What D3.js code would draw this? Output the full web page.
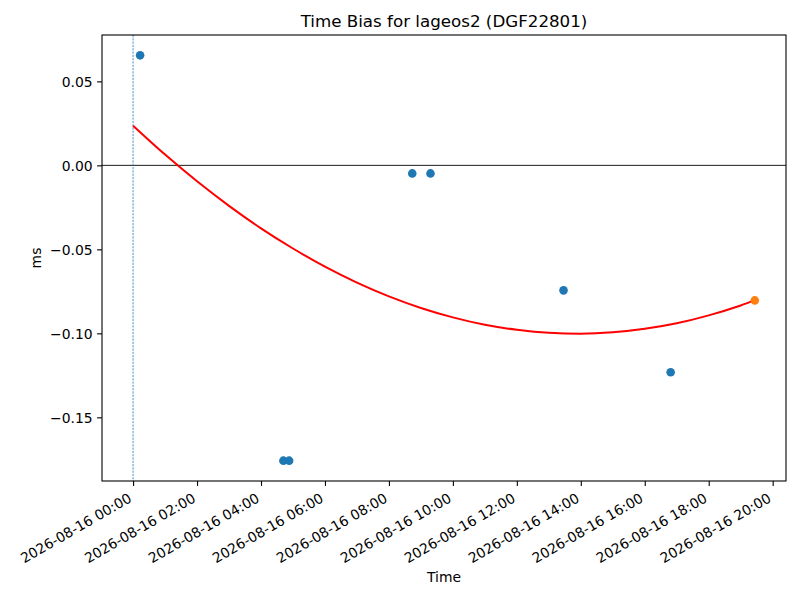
<!DOCTYPE html>
<html lang="en">
<head>
<meta charset="UTF-8">
<title>Time Bias for lageos2</title>
<script src="https://cdn.jsdelivr.net/npm/d3@7"></script>
<style>
  body { margin: 0; background: #fff; }
  text { font-family: "DejaVu Sans", sans-serif; fill: #000; }
</style>
</head>
<body>
<script>
// passes (hours after 2026-08-16 00:00) and measured bias in ms
var passHours = [0.22, 4.70, 4.88, 8.73, 9.30, 13.46, 16.81];
var passBias = [0.0655, -0.1758, -0.1758, -0.0048, -0.0048, -0.0744, -0.1232];

// latest pass (orange)
var lastHours = [19.44];
var lastBias = [-0.0804];

// fitted curve at each hour
var fitHours = [0, 1, 2, 3, 4, 5, 6, 7, 8, 9, 10, 11, 12, 13, 14, 15, 16, 17, 18, 19, 19.44];
var fitBias = [0.0236, 0.0064, -0.0095, -0.0241, -0.0375, -0.0495, -0.0603, -0.0698, -0.0780, -0.0849,
               -0.0905, -0.0949, -0.0979, -0.0997, -0.1002, -0.0994, -0.0973, -0.0940, -0.0893, -0.0834, -0.0804];

var yTicks = [0.05, 0.00, -0.05, -0.10, -0.15];
var xTickHours = [0, 2, 4, 6, 8, 10, 12, 14, 16, 18, 20];

var w = 800, h = 600;
var padL = 102, padR = 786, padT = 35, padB = 481;
var t0 = new Date(2026, 7, 16, 0, 0);
var toDate = hr => new Date(t0.getTime() + hr * 3600e3);

var svg = d3.select('body').append('svg')
  .attr('width', w)
  .attr('height', h);

var x = d3.scaleTime()
  .domain([toDate(-0.972), toDate(20.417)])
  .range([padL, padR]);

var y = d3.scaleLinear()
  .domain([-0.1879, 0.0776])
  .range([padB, padT]);

var fmtTime = d3.timeFormat('%Y-%m-%d %H:%M');
var fmtY = d => d3.format('.2f')(d).replace('-', '\u2212');

// zero line and start marker
svg.append('line')
  .attr('x1', padL).attr('x2', padR)
  .attr('y1', y(0)).attr('y2', y(0))
  .attr('stroke', '#000').attr('stroke-width', 0.9);

svg.append('line')
  .attr('x1', x(toDate(0))).attr('x2', x(toDate(0)))
  .attr('y1', padT).attr('y2', padB)
  .attr('stroke', '#1f77b4').attr('stroke-width', 0.8)
  .attr('stroke-dasharray', '2.2,1.1');

// fitted curve
var fitData = fitHours.map((t, i) => [toDate(t), fitBias[i]]);
svg.append('path')
  .datum(fitData)
  .attr('fill', 'none')
  .attr('stroke', 'red')
  .attr('stroke-width', 2)
  .attr('d', d3.line().x(d => x(d[0])).y(d => y(d[1])).curve(d3.curveMonotoneX));

// scatter points
svg.selectAll('circle.pass')
  .data(passHours.map((t, i) => [toDate(t), passBias[i]]))
  .enter()
  .append('circle')
  .attr('class', 'pass')
  .attr('cx', d => x(d[0]))
  .attr('cy', d => y(d[1]))
  .attr('r', 4.3)
  .attr('fill', '#1f77b4');

svg.selectAll('circle.last')
  .data(lastHours.map((t, i) => [toDate(t), lastBias[i]]))
  .enter()
  .append('circle')
  .attr('class', 'last')
  .attr('cx', d => x(d[0]))
  .attr('cy', d => y(d[1]))
  .attr('r', 4.3)
  .attr('fill', '#ff7f0e');

// frame
svg.append('rect')
  .attr('x', padL).attr('y', padT)
  .attr('width', padR - padL).attr('height', padB - padT)
  .attr('fill', 'none').attr('stroke', '#000').attr('stroke-width', 1.1);

// y axis
var yAxis = svg.append('g')
  .attr('transform', `translate(${padL},0)`)
  .call(d3.axisLeft(y).tickValues(yTicks).tickSize(4.9).tickPadding(4.5).tickFormat(fmtY));
yAxis.select('.domain').remove();
yAxis.selectAll('line').attr('stroke-width', 1.1);
yAxis.selectAll('text')
  .attr('font-size', '13.9px')
  .attr('font-family', '"DejaVu Sans", sans-serif')
  .attr('dy', '0.36em');

// x axis
var xAxis = svg.append('g')
  .attr('transform', `translate(0,${padB})`)
  .call(d3.axisBottom(x).tickValues(xTickHours.map(toDate)).tickSize(4.9).tickFormat(fmtTime));
xAxis.select('.domain').remove();
xAxis.selectAll('line').attr('stroke-width', 1.1);
xAxis.selectAll('text')
  .attr('font-size', '13.9px')
  .attr('font-family', '"DejaVu Sans", sans-serif')
  .attr('text-anchor', 'end')
  .attr('dy', null)
  .attr('y', 0)
  .attr('transform', 'translate(-1,20) rotate(-30)');

// titles
svg.append('text')
  .attr('x', (padL + padR) / 2).attr('y', 27)
  .attr('text-anchor', 'middle')
  .attr('font-size', '16.7px')
  .text('Time Bias for lageos2 (DGF22801)');

svg.append('text')
  .attr('x', (padL + padR) / 2).attr('y', 582)
  .attr('text-anchor', 'middle')
  .attr('font-size', '13.9px')
  .text('Time');

svg.append('text')
  .attr('transform', `translate(41,${(padT + padB) / 2}) rotate(-90)`)
  .attr('text-anchor', 'middle')
  .attr('font-size', '13.9px')
  .text('ms');
</script>
</body>
</html>
